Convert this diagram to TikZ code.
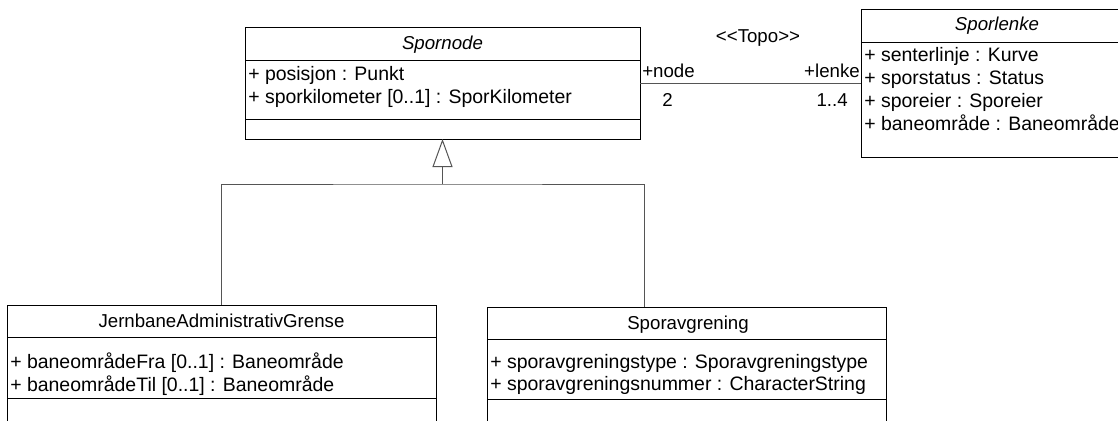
\documentclass[tikz,border=0pt]{standalone}
\usepackage{fontspec}
\setmainfont{Liberation Sans}
\usetikzlibrary{arrows.meta,calc}
\definecolor{linegray}{RGB}{85,85,85}
\begin{document}
\begin{tikzpicture}[x=0.75pt,y=-0.75pt,
  every node/.style={font=\fontsize{14}{16}\selectfont},
  classbox/.style={draw=black, line width=0.75pt, fill=white, anchor=north west,
                   inner sep=0pt, outer sep=0pt},
  divider/.style={draw=black, line width=0.75pt},
  conn/.style={draw=linegray, line width=0.75pt},
  attr/.style={inner sep=0pt, anchor=base west, font=\fontsize{14.6}{16}\selectfont},
  ctitle/.style={inner sep=0pt, anchor=base},
  atitle/.style={inner sep=0pt, anchor=base, font=\fontsize{14}{16}\selectfont\itshape},
  rolelbl/.style={inner sep=0pt, anchor=base west},
  genarrow/.style={conn, -{Triangle[open, length=21pt, width=15pt, fill=white]}}]

\useasboundingbox (0,0) rectangle (1118,421);
\fill[white] (0,0) rectangle (1118,421);
\clip (0,0) rectangle (1118,421);

% class boxes
\node[classbox, minimum width=296.25pt, minimum height=84pt] (spornode) at (245,27) {};
\node[classbox, minimum width=204pt, minimum height=111pt] (sporlenke) at (861,9) {};
\node[classbox, minimum width=321.75pt, minimum height=97.5pt] (jag) at (7,305) {};
\node[classbox, minimum width=299.25pt, minimum height=97.5pt] (avg) at (487,307) {};

% compartment dividers
\draw[divider] ($(spornode.north west)+(0,33)$) -- ($(spornode.north east)+(0,33)$);
\draw[divider] ($(spornode.north west)+(0,92)$) -- ($(spornode.north east)+(0,92)$);
\draw[divider] ($(sporlenke.north west)+(0,33)$) -- ($(sporlenke.north east)+(0,33)$);
\draw[divider] ($(jag.north west)+(0,32)$) -- ($(jag.north east)+(0,32)$);
\draw[divider] ($(jag.north west)+(0,93)$) -- ($(jag.north east)+(0,93)$);
\draw[divider] ($(avg.north west)+(0,32)$) -- ($(avg.north east)+(0,32)$);
\draw[divider] ($(avg.north west)+(0,92)$) -- ($(avg.north east)+(0,92)$);

% Spornode
\node[atitle] (spornodeName) at (442.5,49) {Spornode};
\node[attr] (spornodeA1) at (248,80) {+ posisjon : Punkt};
\node[attr] (spornodeA2) at (248,103) {+ sporkilometer [0..1] : SporKilometer};

% Sporlenke
\node[atitle] (sporlenkeName) at (997,31) {Sporlenke};
\node[attr] (sporlenkeA1) at (864,61) {+ senterlinje : Kurve};
\node[attr] (sporlenkeA2) at (864,84) {+ sporstatus : Status};
\node[attr] (sporlenkeA3) at (864,107) {+ sporeier : Sporeier};
\node[attr] (sporlenkeA4) at (864,130) {+ baneområde : Baneområde};

% JernbaneAdministrativGrense
\node[ctitle] (jagName) at (221.5,327) {JernbaneAdministrativGrense};
\node[attr] (jagA1) at (10,368) {+ baneområdeFra [0..1] : Baneområde};
\node[attr] (jagA2) at (10,391) {+ baneområdeTil [0..1] : Baneområde};

% Sporavgrening
\node[ctitle] (avgName) at (688,329) {Sporavgrening};
\node[attr] (avgA1) at (490,368) {+ sporavgreningstype : Sporavgreningstype};
\node[attr] (avgA2) at (490,390) {+ sporavgreningsnummer : CharacterString};

% association Spornode -- Sporlenke
\draw[conn] (spornode.north east |- sporlenke.west) -- (sporlenke.west);
\node[inner sep=0pt, anchor=base] (topo) at (758,42) {<{}<Topo>{}>};
\node[rolelbl] (roleNode) at (642,77) {+node};
\node[rolelbl] (multNode) at (662,106) {2};
\node[inner sep=0pt, anchor=base east] (roleLenke) at (860,77) {+lenke};
\node[inner sep=0pt, anchor=base east] (multLenke) at (848,106) {1..4};

% generalisation
\path (spornode.south) ++(0,45) coordinate (gj);
\draw[genarrow] (gj) -- (spornode.south);
\draw[conn] (jag.north) |- (gj) -| ([xshift=3pt]spornode.south east |- avg.north);

\end{tikzpicture}
\end{document}
